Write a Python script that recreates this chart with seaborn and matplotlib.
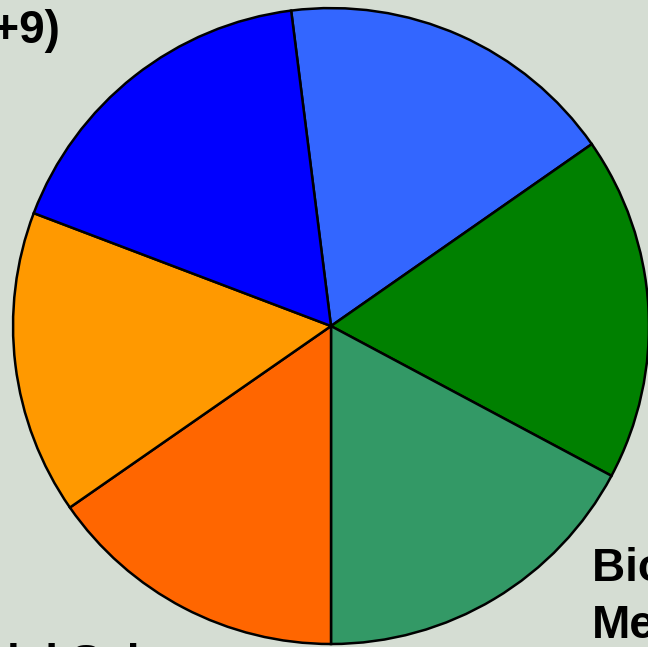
import matplotlib
matplotlib.use("Agg")
import matplotlib.pyplot as plt
import seaborn as sns

# Data (clockwise from the top)
categories = ["Engineering", "Computer Science", "Biology &\nMedicine",
              "Social Sciences", "Humanities", "Other (+9)"]
values = [62.3, 63.0, 61.9, 55.2, 55.6, 62.0]
colors = ["#3366FF", "#008000", "#339966", "#FF6600", "#FF9900", "#0000FF"]

sns.set_style("white")
plt.rcParams['font.family'] = ['Liberation Sans', 'DejaVu Sans']

bg = "#D5DDD3"
fig = plt.figure(figsize=(6.48, 6.47), dpi=100, facecolor=bg)
ax = fig.add_axes([0, 0, 1, 1])
ax.set_facecolor(bg)

wedges, _ = ax.pie(values, colors=colors, startangle=97.2, counterclock=False,
                   radius=1.0,
                   wedgeprops=dict(edgecolor="black", linewidth=1.8))

ax.set_xlim(-1.041, 0.997)
ax.set_ylim(-1.009, 1.025)
ax.set_aspect('equal')
ax.axis('off')

font = dict(fontsize=33, fontweight='bold', color='black')
ax.text(-0.852, 0.89, categories[5], ha='right', va='baseline', **font)
ax.text(0.821, -0.695, categories[2], ha='left', va='top', linespacing=1.38, **font)
ax.text(-1.283, -1.104, categories[3], ha='left', va='baseline', **font)

fig.savefig("out.png", dpi=100, facecolor=bg)
